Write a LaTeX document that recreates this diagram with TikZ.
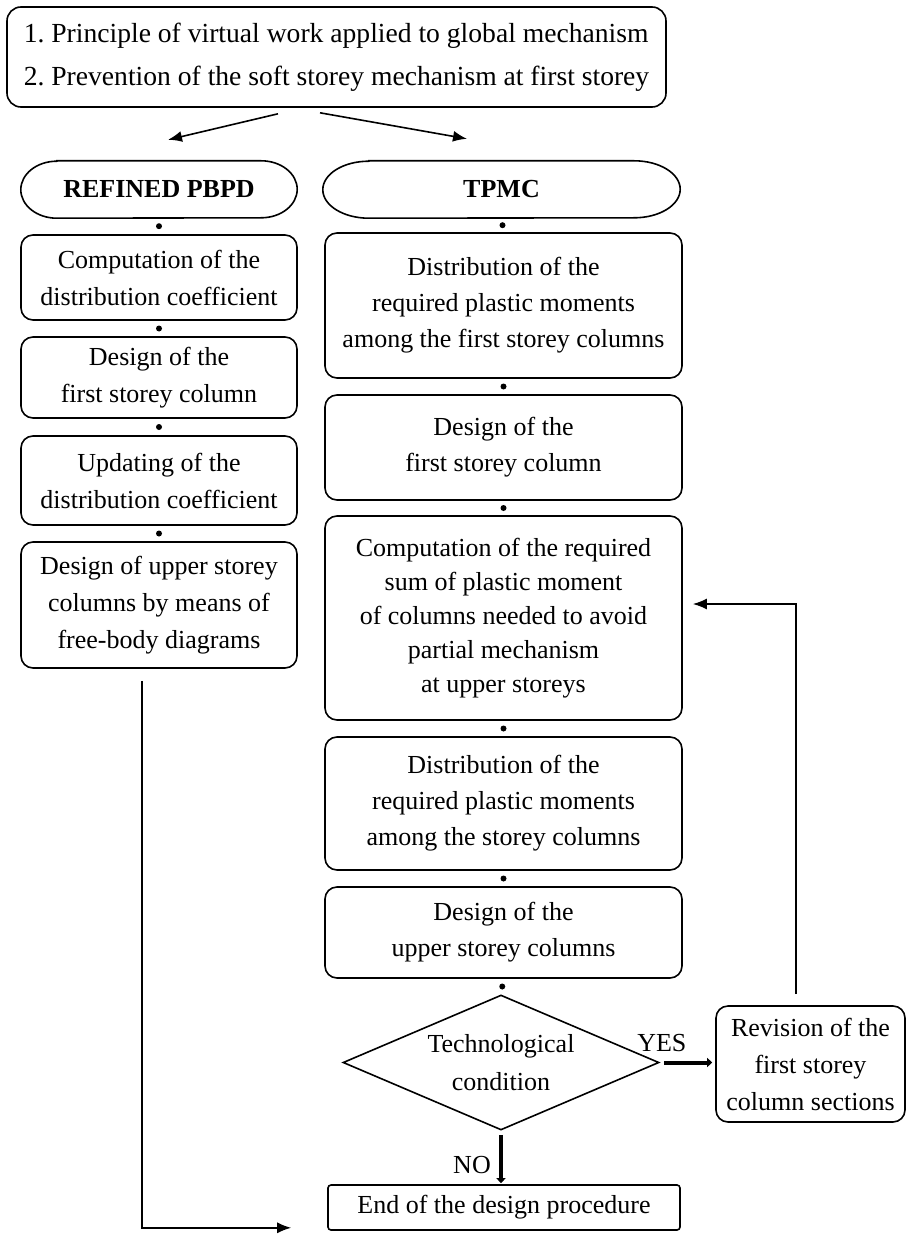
\documentclass[tikz,border=0pt]{standalone}
\usepackage{fontspec}
\setmainfont{Liberation Serif}
\usetikzlibrary{shapes.geometric,arrows.meta,calc}

% outline of a pill-shaped node with elliptical ends
\newcommand\pilloutline[2]{%
  \draw[line width=1.6pt] ([xshift=#2]#1.north west) -- ([xshift=-#2]#1.north east)
    arc[start angle=90,end angle=-90,x radius=#2,y radius=28.5pt]
    -- ([xshift=#2]#1.south west)
    arc[start angle=270,end angle=90,x radius=#2,y radius=28.5pt] -- cycle;}

\begin{document}
\frenchspacing
\begin{tikzpicture}[x=1pt,y=-1pt,
  every node/.style={font=\fontsize{26}{36}\selectfont},
  box/.style={draw,line width=1.6pt,rounded corners=12pt,align=center,inner sep=0pt},
  lbox/.style={box,minimum width=276pt,font=\fontsize{26}{37}\selectfont},
  rbox/.style={box,minimum width=357pt,font=\fontsize{26}{36}\selectfont},
  pill/.style={minimum height=57pt,inner sep=0pt,font=\fontsize{26}{30}\selectfont\bfseries},
  link/.style={fill=black},
  arr/.style={line width=1.6pt,-{Latex[length=14pt,width=11pt]}},
  thickarr/.style={line width=4pt,-{Triangle[length=5pt,width=9pt]}},
  decision/.style={draw,line width=1.6pt,shape=diamond,aspect=2.34,minimum width=316pt,minimum height=135pt,inner sep=0pt,align=center}
]
\useasboundingbox (0,0) rectangle (909,1238);

% starting assumptions
\node[box,minimum width=659pt,minimum height=100pt,align=left,rounded corners=14pt,font=\fontsize{27.6}{43}\selectfont] (top) at (336.5,57)
  {1. Principle of virtual work applied to global mechanism\\
   2. Prevention of the soft storey mechanism at first storey};

% the two procedures
\node[pill,minimum width=276pt] (pbpd) at (159,189.5) {REFINED PBPD};
\node[pill,minimum width=357pt] (tpmc) at (501.5,189.5) {TPMC};
\pilloutline{pbpd}{36pt}
\pilloutline{tpmc}{46pt}

% refined PBPD steps
\node[lbox,minimum height=85pt]  (l1) at (159,277.5) {Computation of the\\distribution coefficient};
\node[lbox,minimum height=81pt]  (l2) at (159,377.5) {Design of the\\first storey column};
\node[lbox,minimum height=89pt]  (l3) at (159,480.5) {Updating of the\\distribution coefficient};
\node[lbox,minimum height=126pt] (l4) at (159,605) {Design of upper storey\\columns by means of\\free-body diagrams};

% TPMC steps
\node[rbox,minimum height=145pt] (r1) at (503.5,305.5) {Distribution of the\\required plastic moments\\among the first storey columns};
\node[rbox,minimum height=105pt] (r2) at (503.5,447.5) {Design of the\\first storey column};
\node[rbox,minimum height=204pt,font=\fontsize{26}{34}\selectfont] (r3) at (503.5,618) {Computation of the required\\sum of plastic moment\\of columns needed to avoid\\partial mechanism\\at upper storeys};
\node[rbox,minimum height=133pt] (r4) at (503.5,803.5) {Distribution of the\\required plastic moments\\among the storey columns};
\node[rbox,minimum height=91pt]  (r5) at (503.5,932.5) {Design of the\\upper storey columns};

\node[decision,font=\fontsize{26}{38}\selectfont] (dia) at (501,1062.5) {Technological\\condition};
\node[box,minimum width=189pt,minimum height=116pt,font=\fontsize{26}{37}\selectfont] (rev) at (810.5,1064) {Revision of the\\first storey\\column sections};
\node[box,minimum width=352pt,minimum height=45pt,rounded corners=3pt] (end) at (504,1207.5) {End of the design procedure};

% links between consecutive steps
\foreach \a/\b in {pbpd/l1,l1/l2,l2/l3,l3/l4,tpmc/r1,r1/r2,r2/r3,r3/r4,r4/r5,r5/dia}
  \fill[link] ($(\a.south)!0.5!(\b.north)$) circle (3pt);

% branching from the assumptions
\draw[arr] ($(top.south)+(-58.5,6)$) -- ($(pbpd.north)+(9,-21)$);
\draw[arr] ($(top.south)+(-16.5,5)$) -- ($(tpmc.north)+(-34.5,-22)$);

% decision outcomes
\draw[thickarr] ([xshift=4pt]dia.east) -- ([xshift=-3pt]rev.west |- dia.east);
\node (yes) at ($(dia.east)+(2,-19.5)$) {YES};
\draw[thickarr] ([yshift=-4pt]dia.south) -- ([yshift=1pt]dia.south |- end.north);
\node (no) at (472,1165) {NO};

% loop back to the required sum of plastic moments
\draw[arr] ([xshift=-14.5pt,yshift=11pt]rev.north) |- ([xshift=10pt,yshift=14pt]r3.east);

% refined PBPD to the end
\coordinate (lt) at ($(end.south west)+(-36,-3)$);
\draw[arr] ($(l4.south)+(-17,12)$) |- (lt);
\end{tikzpicture}
\end{document}
